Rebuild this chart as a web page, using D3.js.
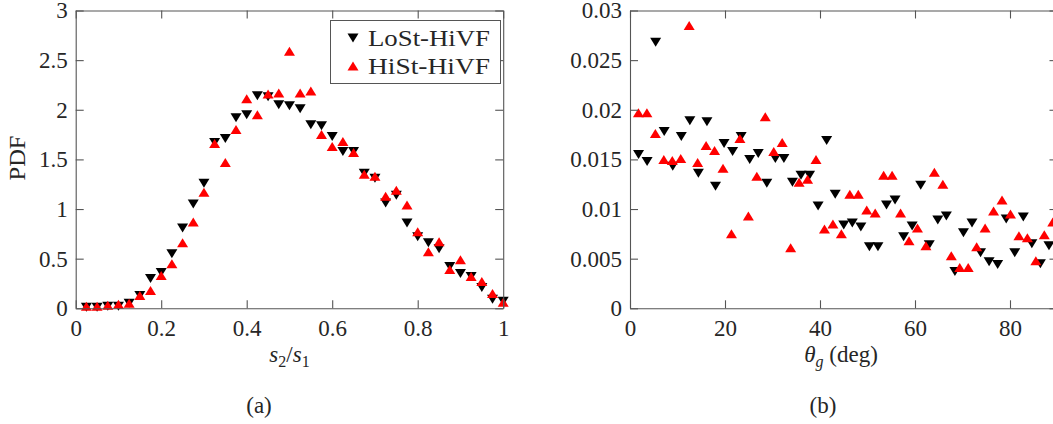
<!DOCTYPE html>
<html>
<head>
<meta charset="utf-8">
<script src="https://cdn.jsdelivr.net/npm/d3@7/dist/d3.min.js"></script>
<style>
    body { margin: 0; background: #fff; }
    svg { display: block; }
    text { font-family: "Liberation Serif", "DejaVu Serif", serif; fill: #262626; }
</style>
</head>
<body>
<svg id="chart" width="1053" height="424"></svg>
<script>
// panel (a): PDF of s2/s1
var ratioBins = [0.025, 0.05, 0.075, 0.1, 0.125, 0.15, 0.175, 0.2, 0.225, 0.25,
    0.275, 0.3, 0.325, 0.35, 0.375, 0.4, 0.425, 0.45, 0.475, 0.5,
    0.525, 0.55, 0.575, 0.6, 0.625, 0.65, 0.675, 0.7, 0.725, 0.75,
    0.775, 0.8, 0.825, 0.85, 0.875, 0.9, 0.925, 0.95, 0.975, 1.0]
var ratioLoSt = [0.01, 0.01, 0.02, 0.02, 0.05, 0.13, 0.30, 0.36, 0.55, 0.81,
    1.05, 1.26, 1.67, 1.71, 1.92, 1.95, 2.14, 2.13, 2.05, 2.04,
    2.01, 1.85, 1.84, 1.73, 1.58, 1.58, 1.36, 1.31, 1.06, 1.14,
    0.86, 0.72, 0.66, 0.60, 0.42, 0.35, 0.32, 0.21, 0.09, 0.07]
var ratioHiSt = [0.02, 0.02, 0.03, 0.04, 0.05, 0.13, 0.18, 0.33, 0.45, 0.66,
    0.87, 1.17, 1.66, 1.47, 1.80, 2.11, 1.95, 2.16, 2.17, 2.59,
    2.17, 2.19, 1.75, 1.63, 1.68, 1.57, 1.35, 1.33, 1.13, 1.19,
    1.04, 0.77, 0.57, 0.67, 0.39, 0.49, 0.32, 0.27, 0.15, 0.06]

// panel (b): PDF of theta_g
var thetaLoSt = [1.8, 3.6, 5.4, 7.2, 9.0, 10.8, 12.6, 14.4, 16.2, 18.0,
    19.8, 21.6, 23.4, 25.2, 27.0, 28.8, 30.6, 32.4, 34.2, 36.0,
    37.8, 39.6, 41.4, 43.2, 45.0, 46.8, 48.6, 50.4, 52.2, 54.0,
    55.8, 57.6, 59.4, 61.2, 63.0, 64.8, 66.6, 68.4, 70.2, 72.0,
    73.8, 75.6, 77.4, 79.2, 81.0, 82.8, 84.6, 86.4, 88.2]
var pdfLoSt = [0.0155, 0.0148, 0.0268, 0.0178, 0.0143, 0.0173, 0.0189, 0.0136, 0.0188, 0.0123,
    0.0166, 0.0158, 0.0173, 0.0150, 0.0156, 0.0126, 0.0151, 0.0151, 0.0127, 0.0134,
    0.0134, 0.0103, 0.0169, 0.0115, 0.0084, 0.0086, 0.0082, 0.0062, 0.0062, 0.0104,
    0.0109, 0.0072, 0.0083, 0.0124, 0.0064, 0.0089, 0.0093, 0.0037, 0.0076, 0.0086,
    0.0056, 0.0047, 0.0044, 0.0090, 0.0056, 0.0092, 0.0065, 0.0045, 0.0063]
var thetaHiSt = [1.78, 3.56, 5.34, 7.12, 8.9, 10.68, 12.46, 14.24, 16.02, 17.8,
    19.58, 21.36, 23.14, 24.92, 26.7, 28.48, 30.26, 32.04, 33.82, 35.6,
    37.38, 39.16, 40.94, 42.72, 44.5, 46.28, 48.06, 49.84, 51.62, 53.4,
    55.18, 56.96, 58.74, 60.52, 62.3, 64.08, 65.86, 67.64, 69.42, 71.2,
    72.98, 74.76, 76.54, 78.32, 80.1, 81.88, 83.66, 85.44, 87.22, 89.0]
var pdfHiSt = [0.0197, 0.0197, 0.0176, 0.0150, 0.0149, 0.0151, 0.0285, 0.0147, 0.0164, 0.0159,
    0.0141, 0.0075, 0.0171, 0.0093, 0.0133, 0.0193, 0.0158, 0.0167, 0.0061, 0.0127,
    0.0130, 0.0150, 0.0080, 0.0085, 0.0075, 0.0115, 0.0115, 0.0099, 0.0096, 0.0134,
    0.0134, 0.0096, 0.0068, 0.0081, 0.0063, 0.0137, 0.0125, 0.0053, 0.0041, 0.0041,
    0.0062, 0.0081, 0.0098, 0.0109, 0.0095, 0.0073, 0.0071, 0.0048, 0.0074, 0.0087]

var ratioTicks = [0, 0.2, 0.4, 0.6, 0.8, 1]
var ratioPdfTicks = [0, 0.5, 1, 1.5, 2, 2.5, 3]
var thetaTicks = [0, 20, 40, 60, 80]
var thetaPdfTicks = [0, 0.005, 0.01, 0.015, 0.02, 0.025, 0.03]

var seriesNames = ["LoSt-HiVF", "HiSt-HiVF"]

var svg = d3.select("#chart")
var serif = "'Liberation Serif', 'DejaVu Serif', serif"
var plotTop = 10.5, plotBottom = 308.3, plotWidth = 427.5, fontSize = 23

var downTri = "M-5.5,-4.5L5.5,-4.5L0,4.5Z"
var upTri = "M-5.5,4.5L5.5,4.5L0,-4.5Z"

function drawPanel(p) {
    var x = d3.scaleLinear().domain(p.xDomain).range([p.left, p.left + plotWidth])
    var y = d3.scaleLinear().domain(p.yDomain).range([plotBottom, plotTop])
    var g = svg.append("g")

    // markers, black first so red sits on top
    g.append("g").selectAll("path")
        .data(p.blackX.map(function (d, i) { return [d, p.blackY[i]] }))
        .enter().append("path")
        .attr("d", downTri)
        .attr("transform", function (d) { return "translate(" + x(d[0]) + "," + y(d[1]) + ")" })
        .attr("fill", "#000")
    g.append("g").selectAll("path")
        .data(p.redX.map(function (d, i) { return [d, p.redY[i]] }))
        .enter().append("path")
        .attr("d", upTri)
        .attr("transform", function (d) { return "translate(" + x(d[0]) + "," + y(d[1]) + ")" })
        .attr("fill", "#ff0000")

    var fmt = function (d) { return String(d) }

    var axes = [
        [d3.axisBottom(x).tickValues(p.xTicks).tickFormat(fmt).tickPadding(11), "translate(0," + plotBottom + ")"],
        [d3.axisTop(x).tickValues(p.xTicks).tickFormat(""), "translate(0," + plotTop + ")"],
        [d3.axisLeft(y).tickValues(p.yTicks).tickFormat(fmt).tickPadding(8), "translate(" + p.left + ",0)"],
        [d3.axisRight(y).tickValues(p.yTicks).tickFormat(""), "translate(" + (p.left + plotWidth) + ",0)"]
    ]
    axes.forEach(function (a) {
        var ax = g.append("g")
            .attr("transform", a[1])
            .call(a[0].tickSizeInner(-8).tickSizeOuter(0))
        ax.attr("font-family", serif).attr("font-size", fontSize)
        ax.select(".domain").attr("stroke", "#555").attr("stroke-width", 1.1)
        ax.selectAll(".tick line").attr("stroke", "#555").attr("stroke-width", 1.1)
        ax.selectAll("text")
            .style("font-family", serif)
            .style("font-size", fontSize + "px")
            .attr("fill", "#262626")
    })

    return { g: g, x: x, y: y }
}

var a = drawPanel({
    left: 75.7, xDomain: [0, 1], yDomain: [0, 3],
    xTicks: ratioTicks, yTicks: ratioPdfTicks,
    blackX: ratioBins, blackY: ratioLoSt, redX: ratioBins, redY: ratioHiSt
})

var b = drawPanel({
    left: 630, xDomain: [0, 90], yDomain: [0, 0.03],
    xTicks: thetaTicks, yTicks: thetaPdfTicks,
    blackX: thetaLoSt, blackY: pdfLoSt, redX: thetaHiSt, redY: pdfHiSt
})

// axis labels
var lab = svg.append("g").style("font-size", fontSize + "px").style("font-family", serif)

lab.append("text")
    .attr("transform", "translate(25,158) rotate(-90)")
    .attr("text-anchor", "middle")
    .attr("textLength", 45)
    .attr("lengthAdjust", "spacingAndGlyphs")
    .text("PDF")

var sx = lab.append("text").attr("x", 289.5).attr("y", 362).attr("text-anchor", "middle")
sx.append("tspan").style("font-style", "italic").text("s")
sx.append("tspan").attr("dy", 5).style("font-size", "16px").text("2")
sx.append("tspan").attr("dy", -5).text("/")
sx.append("tspan").style("font-style", "italic").text("s")
sx.append("tspan").attr("dy", 5).style("font-size", "16px").text("1")

var tx = lab.append("text").attr("x", 841).attr("y", 362).attr("text-anchor", "middle")
tx.append("tspan").style("font-style", "italic").text("θ")
tx.append("tspan").attr("dy", 5).style("font-size", "16px").style("font-style", "italic").text("g")
tx.append("tspan").attr("dy", -5).text(" (deg)")

lab.append("text").attr("x", 259).attr("y", 413).attr("text-anchor", "middle").text("(a)")
lab.append("text").attr("x", 823).attr("y", 413).attr("text-anchor", "middle").text("(b)")

// legend
var leg = svg.append("g")
leg.append("rect")
    .attr("x", 330.5).attr("y", 20.5).attr("width", 170).attr("height", 63)
    .attr("fill", "#fff").attr("stroke", "#555").attr("stroke-width", 1)
leg.append("path").attr("d", downTri).attr("transform", "translate(353,38)").attr("fill", "#000")
leg.append("path").attr("d", upTri).attr("transform", "translate(353,66)").attr("fill", "#ff0000")
leg.selectAll(".lt")
    .data(seriesNames)
    .enter().append("text")
    .attr("x", 368)
    .attr("y", function (d, i) { return 38 + i * 28 })
    .attr("dy", "0.35em")
    .attr("textLength", 122)
    .attr("lengthAdjust", "spacingAndGlyphs")
    .style("font-family", serif)
    .style("font-size", fontSize + "px")
    .text(function (d) { return d })
</script>
</body>
</html>
